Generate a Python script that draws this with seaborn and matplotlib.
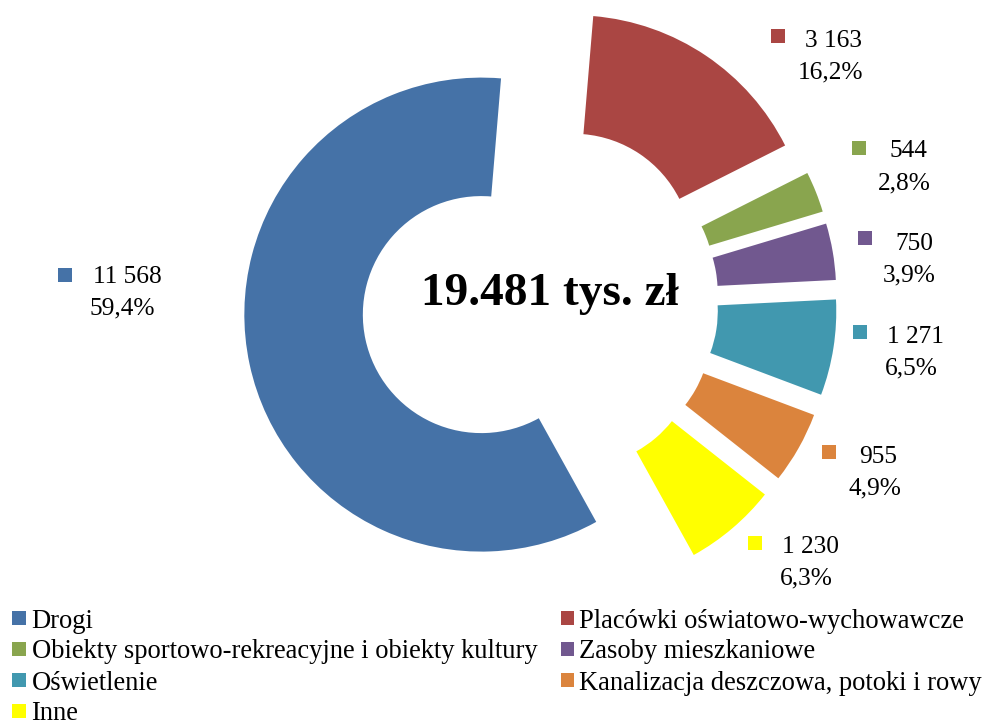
import matplotlib
matplotlib.use("Agg")
import matplotlib.pyplot as plt
from matplotlib.patches import Rectangle
import seaborn as sns

# Investment spending by category (thousand PLN)
categories = [
    "Drogi",
    "Placówki oświatowo-wychowawcze",
    "Obiekty sportowo-rekreacyjne i obiekty kultury",
    "Zasoby mieszkaniowe",
    "Oświetlenie",
    "Kanalizacja deszczowa, potoki i rowy",
    "Inne",
]
values = [11568, 3163, 544, 750, 1271, 955, 1230]
# Shares as published (computed from the unrounded amounts)
shares = [59.4, 16.2, 2.8, 3.9, 6.5, 4.9, 6.3]
total_label = "19.481 tys. zł"
colors = ["#4572A7", "#AA4643", "#89A54E", "#71588F", "#4198AF", "#DB843D", "#FFFF00"]

sns.set_theme(style="white")
plt.rcParams["font.family"] = ["Liberation Serif", "DejaVu Serif"]

W, H = 985, 722
fig = plt.figure(figsize=(W / 100, H / 100), dpi=100)
ax = fig.add_axes([0, 0, 1, 1])
palette = sns.color_palette(colors)


def fy(y):
    """Convert a top-down pixel row to the axes' bottom-up coordinate."""
    return H - y


# Exploded doughnut
outer_r = 237
ax.pie(
    values,
    colors=palette,
    startangle=-61,
    counterclock=False,
    explode=[60] * len(values),
    radius=outer_r,
    center=(540, fy(302)),
    wedgeprops=dict(width=outer_r * 0.5, linewidth=0),
)
ax.set_xlim(0, W)
ax.set_ylim(0, H)
ax.set_aspect("equal")
ax.axis("off")

# Total in the hole
ax.text(550, fy(305), total_label, ha="center", va="baseline",
        fontsize=34, fontweight="bold", color="black")

# Data labels: key square, value and share
label_pos = [
    # (marker cx, marker cy, value cx, value baseline, pct cx, pct baseline)
    (65, 275, 127, 283, 122.5, 314),
    (778, 36, 833.5, 47, 830.5, 78),
    (859, 148, 908.5, 157, 904.5, 189),
    (865, 238, 914, 250, 909.5, 281),
    (860, 332, 915, 343, 911, 374),
    (829, 452, 878, 463, 874.5, 494),
    (755, 543, 810.5, 553, 806, 584),
]
sq = 14
for v, s, c, (mx, my, vx, vy, px, py) in zip(values, shares, palette, label_pos):
    ax.add_patch(Rectangle((mx - sq / 2, fy(my) - sq / 2), sq, sq,
                           facecolor=c, edgecolor="none"))
    ax.text(vx, fy(vy), f"{v:,}".replace(",", " "), ha="center",
            va="baseline", fontsize=18.3, color="black")
    pct = f"{s:.1f}%".replace(".", ",")
    ax.text(px, fy(py), pct, ha="center", va="baseline",
            fontsize=18.3, color="black")

# Legend, filled row by row in two columns
col_sq_x = [12.3, 560.7]
col_txt_x = [31.5, 579.0]
for i, (name, c) in enumerate(zip(categories, palette)):
    row, col = divmod(i, 2)
    base = 627.5 + row * 31
    ax.add_patch(Rectangle((col_sq_x[col], fy(base - 3)), 13.4, 13.3,
                           facecolor=c, edgecolor="none"))
    ax.text(col_txt_x[col], fy(base), name, ha="left", va="baseline",
            fontsize=19.1, color="black")

fig.savefig("out.png", dpi=100)
